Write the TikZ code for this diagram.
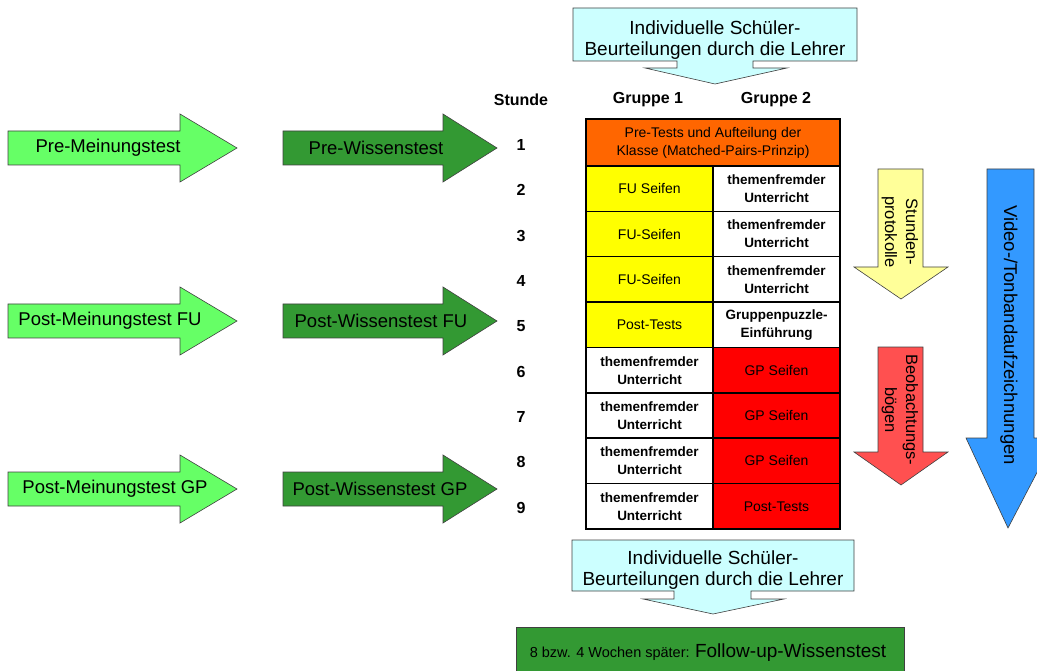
\documentclass[tikz,border=0pt]{standalone}
\usepackage{fontspec}
\setmainfont{Liberation Sans}
\usepackage{xcolor}

\definecolor{cyanbox}{HTML}{CCFFFF}
\definecolor{lgreen}{HTML}{66FF66}
\definecolor{dgreen}{HTML}{339933}
\definecolor{orangecell}{HTML}{FF6600}
\definecolor{yellowcell}{HTML}{FFFF00}
\definecolor{redcell}{HTML}{FF0000}
\definecolor{paleyellow}{HTML}{FFFF99}
\definecolor{salmon}{HTML}{FF5050}
\definecolor{skyblue}{HTML}{3399FF}

\begin{document}
\begin{tikzpicture}[x=1pt, y=-1pt,
    arr/.style={draw=black!75, line width=0.6pt},
    lbl/.style={font=\fontsize{18.5}{21}\selectfont},
    callout/.style={align=center, font=\fontsize{19}{21.5}\selectfont},
    hdr/.style={font=\fontsize{16}{19}\selectfont\bfseries},
    cell/.style={draw=black, line width=1.5pt, minimum width=127pt, minimum height=45.4pt, inner sep=0pt, align=center},
    cellrm/.style={cell, font=\fontsize{14}{18}\selectfont},
    cellbf/.style={cell, font=\fontsize{13.5}{18}\selectfont\bfseries},
    vlbl/.style={rotate=-90, align=center, font=\fontsize{16.5}{21}\selectfont}]
    \useasboundingbox (0,0) rectangle (1037,671);

    % Beurteilungen oben
    \filldraw[arr, fill=cyanbox] (573,8) -- (857,8) -- (857,61) -- (753,61) -- (753,68) -- (787,68)
        -- (715,84) -- (645,68) -- (677,68) -- (677,61) -- (573,61) -- cycle;
    \node[callout] (urteiloben) at (715,40) {Individuelle Schüler-\\Beurteilungen durch die Lehrer};

    % Kopfzeile
    \node[hdr] (stunde) at (521,100) {Stunde};
    \node[hdr] (gruppeA) at (648,100) {Gruppe 1};
    \node[hdr] (gruppeB) at (776,100) {Gruppe 2};

    % Tests links
    \foreach \yy/\nm/\mtxt/\mx/\wtxt/\wx in {148/pre/Pre-Meinungstest/108/Pre-Wissenstest/376,
            321/fu/Post-Meinungstest FU/110/Post-Wissenstest FU/381,
            489/gp/Post-Meinungstest GP/115/Post-Wissenstest GP/380} {
        \filldraw[arr, fill=lgreen] (8,\yy-17) -- (180,\yy-17) -- (180,\yy-34) -- (237,\yy)
            -- (180,\yy+34) -- (180,\yy+17) -- (8,\yy+17) -- cycle;
        \node[lbl] (meinung\nm) at (\mx,\yy) {\mtxt};
        \filldraw[arr, fill=dgreen] (283,\yy-17) -- (443,\yy-17) -- (443,\yy-34) -- (497,\yy)
            -- (443,\yy+34) -- (443,\yy+17) -- (283,\yy+17) -- cycle;
        \node[lbl] (wissen\nm) at (\wx,\yy) {\wtxt};
    }

    % Stunden
    \foreach \i/\yy in {1/145,2/190,3/236,4/281,5/326,6/372,7/417,8/462,9/508}
        \node[hdr] (std\i) at (521,\yy) {\i};

    % Tabelle
    \node[cellrm, fill=orangecell, minimum width=254pt, minimum height=47pt] (pretest) at (713,142.5)
        {Pre-Tests und Aufteilung der\\Klasse (Matched-Pairs-Prinzip)};
    \foreach \lcol/\lsty/\ltxt/\rcol/\rsty/\rtxt [count=\i from 2] in {
            yellowcell/cellrm/{FU Seifen}/white/cellbf/{themenfremder\\Unterricht},
            yellowcell/cellrm/{FU-Seifen}/white/cellbf/{themenfremder\\Unterricht},
            yellowcell/cellrm/{FU-Seifen}/white/cellbf/{themenfremder\\Unterricht},
            yellowcell/cellrm/{Post-Tests}/white/cellbf/{Gruppenpuzzle-\\Einführung},
            white/cellbf/{themenfremder\\Unterricht}/redcell/cellrm/{GP Seifen},
            white/cellbf/{themenfremder\\Unterricht}/redcell/cellrm/{GP Seifen},
            white/cellbf/{themenfremder\\Unterricht}/redcell/cellrm/{GP Seifen},
            white/cellbf/{themenfremder\\Unterricht}/redcell/cellrm/{Post-Tests}} {
        \node[\lsty, fill=\lcol] (eins\i) at (649.5,{166+(\i-1.5)*45.375}) {\ltxt};
        \node[\rsty, fill=\rcol] (zwei\i) at (776.5,{166+(\i-1.5)*45.375}) {\rtxt};
    }
    \draw[line width=2.5pt] (586,119) rectangle (840,529);

    % Pfeile rechts
    \filldraw[arr, fill=paleyellow] (878,169) -- (923,169) -- (923,267) -- (948,267) -- (901,299)
        -- (854,267) -- (878,267) -- cycle;
    \node[vlbl] (protokoll) at (900,232) {Stunden-\\protokolle};
    \filldraw[arr, fill=salmon] (878,347) -- (923,347) -- (923,452) -- (948,452) -- (901,485)
        -- (854,452) -- (878,452) -- cycle;
    \node[vlbl] (boegen) at (900,410) {Beobachtungs-\\bögen};
    \filldraw[arr, fill=skyblue] (987,169) -- (1034,169) -- (1034,438) -- (1055,438) -- (1008,528)
        -- (966,438) -- (987,438) -- cycle;
    \node[vlbl, font=\fontsize{18.5}{21}\selectfont] (video) at (1009,335) {Video-/Tonbandaufzeichnungen};

    % Beurteilungen unten
    \filldraw[arr, fill=cyanbox] (572,540) -- (854,540) -- (854,591) -- (751,591) -- (751,599) -- (784,599)
        -- (713,614) -- (643,599) -- (674,599) -- (674,591) -- (572,591) -- cycle;
    \node[callout] (urteilunten) at (713,570) {Individuelle Schüler-\\Beurteilungen durch die Lehrer};

    % Follow-up
    \filldraw[arr, fill=dgreen] (516,627) rectangle (904,676);
    \node (followup) at (708,653) {\fontsize{14.5}{17}\selectfont 8 bzw. 4 Wochen später: \fontsize{19}{21}\selectfont Follow-up-Wissenstest};
\end{tikzpicture}
\end{document}
